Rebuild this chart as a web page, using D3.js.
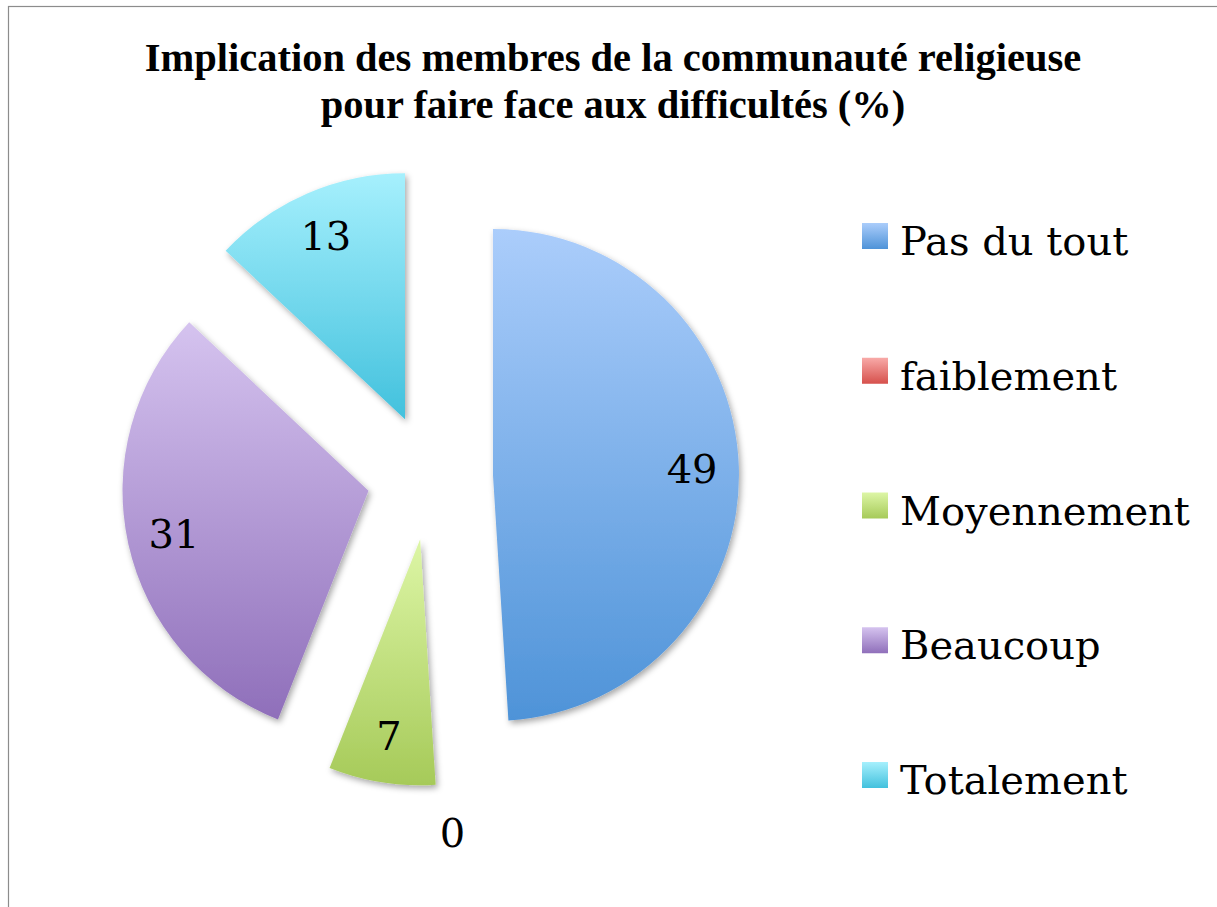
<!DOCTYPE html>
<html>
<head>
<meta charset="utf-8">
<script src="https://cdn.jsdelivr.net/npm/d3@7"></script>
<style>
  html, body { margin: 0; padding: 0; background: #ffffff; }
  svg { display: block; }
</style>
</head>
<body>
<svg id="chart" width="1217" height="907"></svg>
<script>
// ---- data ----
const titleLines = ["Implication des membres de la communauté religieuse", "pour faire face aux difficultés (%)"];
const categories = ["Pas du tout", "faiblement", "Moyennement", "Beaucoup", "Totalement"];
const values = [49, 0, 7, 31, 13];
const colorsTop = ["#abcdfb", "#f8aaa8", "#ddf6a6", "#d5c3ef", "#a6f0fd"];
const colorsBottom = ["#4e93d8", "#d6504c", "#a6ca59", "#8f6fba", "#42c1dd"];

const svg = d3.select("#chart");
const W = 1217, H = 907;

// frame
svg.append("rect").attr("x", 8.5).attr("y", 6.5).attr("width", W + 10).attr("height", H + 10)
  .attr("fill", "#ffffff").attr("stroke", "#8c8c8c").attr("stroke-width", 1.2);

const defs = svg.append("defs");
categories.forEach((c, i) => {
  const g = defs.append("linearGradient").attr("id", "grad" + i)
    .attr("x1", 0).attr("y1", 0).attr("x2", 0).attr("y2", 1);
  g.append("stop").attr("offset", "0%").attr("stop-color", colorsTop[i]);
  g.append("stop").attr("offset", "100%").attr("stop-color", colorsBottom[i]);
});
const f = defs.append("filter").attr("id", "shadow").attr("x", "-20%").attr("y", "-20%").attr("width", "140%").attr("height", "140%");
f.append("feDropShadow").attr("dx", 2).attr("dy", 3).attr("stdDeviation", 3)
  .attr("flood-color", "#000").attr("flood-opacity", 0.35);

// title
const title = svg.append("text").attr("text-anchor", "middle")
  .attr("font-family", "'Liberation Serif', 'Times New Roman', serif")
  .attr("font-weight", "bold").attr("font-size", 34).attr("fill", "#000");
titleLines.forEach((t, i) => {
  title.append("tspan").attr("x", 613).attr("y", 71 + i * 47).text(t);
});
// fit title line 1 to reference width
const tl = title.select("tspan").node().getComputedTextLength();
title.attr("font-size", 34 * 937 / tl);

// pie
const cx = 430, cy = 477, R = 246, explode = 63;
const pie = d3.pie().sort(null).value(d => d)(values);
const arc = d3.arc().innerRadius(0).outerRadius(R);

const slices = svg.append("g").attr("transform", `translate(${cx},${cy})`);
pie.forEach((d, i) => {
  const mid = (d.startAngle + d.endAngle) / 2;
  const ox = explode * Math.sin(mid), oy = -explode * Math.cos(mid);
  const g = slices.append("g").attr("transform", `translate(${ox},${oy})`);
  if (d.value > 0) {
    g.append("path").attr("d", arc(d)).attr("fill", `url(#grad${i})`).attr("filter", "url(#shadow)");
  }
  const lr = d.value > 0 ? R * 0.81 : R + 48;
  g.append("text")
    .attr("x", lr * Math.sin(mid)).attr("y", -lr * Math.cos(mid))
    .attr("text-anchor", "middle").attr("dominant-baseline", "central")
    .attr("font-family", "'DejaVu Serif', serif").attr("font-size", 40).attr("fill", "#000")
    .text(values[i]);
});

// legend
const legend = svg.append("g");
categories.forEach((c, i) => {
  const y = 223 + i * 134.75;
  legend.append("rect").attr("x", 862).attr("y", y).attr("width", 26).attr("height", 26)
    .attr("fill", `url(#grad${i})`);
  legend.append("text").attr("x", 900).attr("y", y + 32)
    .attr("font-family", "'DejaVu Serif', serif").attr("font-size", 40).attr("fill", "#000")
    .text(c);
});
</script>
</body>
</html>
